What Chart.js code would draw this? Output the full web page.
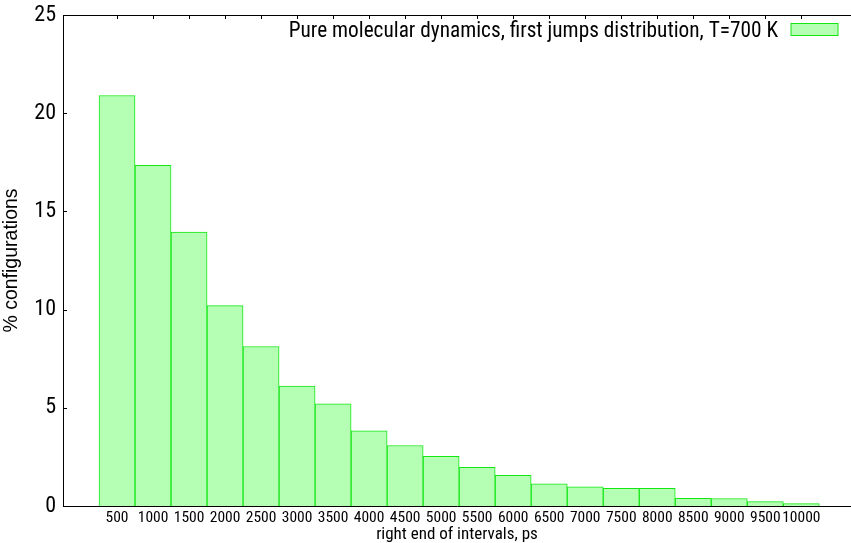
<!DOCTYPE html>
<html>
<head>
<meta charset="utf-8">
<script src="https://cdn.jsdelivr.net/npm/chart.js@4"></script>
<style>
    html, body { margin: 0; padding: 0; background: #fff; overflow: hidden; }
    #wrap { width: 851px; height: 543px; position: relative; }
</style>
</head>
<body>
<div id="wrap"><canvas id="jumpsChart"></canvas></div>
<script>
// right end of each 500 ps interval
const intervalEnds = ['500', '1000', '1500', '2000', '2500', '3000', '3500', '4000', '4500', '5000',
    '5500', '6000', '6500', '7000', '7500', '8000', '8500', '9000', '9500', '10000'];
// share of configurations (%) whose first jump falls into the interval
const percentConfigs = [20.9, 17.35, 13.95, 10.2, 8.12, 6.1, 5.2, 3.83, 3.08, 2.53,
    1.97, 1.56, 1.13, 0.98, 0.9, 0.9, 0.39, 0.38, 0.22, 0.12];
const yTickValues = [0, 5, 10, 15, 20, 25];

const seriesLabel = 'Pure molecular dynamics, first jumps distribution, T=700 K';
const narrowFont = '"Roboto Condensed", "Liberation Sans", Arial, sans-serif';

// gnuplot-like frame: top border with mirrored ticks, inward ticks on the left axis
const framePlugin = {
    id: 'frame',
    afterDatasetsDraw(chart) {
        const { ctx, chartArea, scales } = chart;
        ctx.save();
        ctx.strokeStyle = '#000';
        ctx.lineWidth = 1;
        ctx.beginPath();
        ctx.moveTo(chartArea.left, chartArea.top + 0.5);
        ctx.lineTo(chartArea.right, chartArea.top + 0.5);
        scales.x.ticks.forEach(t => {
            const px = Math.round(scales.x.getPixelForValue(t.value)) + 0.5;
            ctx.moveTo(px, chartArea.top);
            ctx.lineTo(px, chartArea.top + 4);
        });
        yTickValues.forEach(v => {
            const py = Math.round(scales.y.getPixelForValue(v)) + 0.5;
            ctx.moveTo(chartArea.left, py);
            ctx.lineTo(chartArea.left + 4, py);
        });
        ctx.stroke();
        ctx.restore();
    }
};

// key in the top right corner: label text followed by the sample box
const keyPlugin = {
    id: 'key',
    afterDraw(chart) {
        const { ctx, chartArea } = chart;
        const ds = chart.data.datasets[0];
        const boxRight = chartArea.right - 13;
        const boxTop = chartArea.top + 8.5;
        ctx.save();
        ctx.font = '21.3px ' + narrowFont;
        ctx.fillStyle = '#000';
        ctx.textAlign = 'right';
        ctx.textBaseline = 'alphabetic';
        ctx.fillText(ds.label, boxRight - 60, chartArea.top + 22);
        ctx.fillStyle = ds.backgroundColor;
        ctx.fillRect(boxRight - 47, boxTop, 47, 12);
        ctx.strokeStyle = ds.borderColor;
        ctx.lineWidth = 1;
        ctx.strokeRect(boxRight - 47, boxTop, 47, 12);
        ctx.restore();
    }
};

const ctx = document.getElementById('jumpsChart').getContext('2d');
new Chart(ctx, {
    type: 'bar',
    data: {
        datasets: [{
            label: seriesLabel,
            data: percentConfigs.map((v, i) => ({ x: i, y: v })),
            backgroundColor: 'rgb(180, 255, 180)',
            borderColor: 'rgb(20, 230, 20)',
            borderWidth: 1,
            categoryPercentage: 1,
            barPercentage: 1
        }]
    },
    options: {
        responsive: true,
        maintainAspectRatio: false,
        animation: false,
        layout: { padding: { top: 15, right: 0, left: 0, bottom: 0 } },
        plugins: {
            tooltip: { enabled: false },
            legend: { display: false }
        },
        scales: {
            x: {
                type: 'linear',
                offset: false,
                min: -1.5,
                max: 20.38,
                afterBuildTicks: scale => {
                    scale.ticks = intervalEnds.map((_, i) => ({ value: i }));
                },
                afterFit: scale => { scale.height = 37; },
                grid: { display: false, drawTicks: false },
                border: { display: true, color: '#000', width: 1 },
                ticks: {
                    autoSkip: false,
                    maxRotation: 0,
                    padding: 3,
                    color: '#000',
                    font: { family: narrowFont, size: 15.5 },
                    callback: v => intervalEnds[v]
                },
                title: {
                    display: true,
                    text: 'right end of intervals, ps',
                    color: '#000',
                    padding: { top: 0, bottom: -2 },
                    font: { family: narrowFont, size: 17 }
                }
            },
            y: {
                min: 0,
                max: 25,
                afterBuildTicks: scale => {
                    scale.ticks = yTickValues.map(v => ({ value: v }));
                },
                afterFit: scale => { scale.width = 63; },
                grid: { display: false, drawTicks: false },
                border: { display: true, color: '#000', width: 1 },
                ticks: {
                    padding: 7,
                    color: '#000',
                    font: { family: narrowFont, size: 22, lineHeight: 0.5 }
                },
                title: {
                    display: true,
                    text: '% configurations',
                    color: '#000',
                    padding: { top: 0, bottom: 0 },
                    font: { family: '"Liberation Sans", Arial, sans-serif', size: 19.5 }
                }
            }
        }
    },
    plugins: [framePlugin, keyPlugin]
});
</script>
</body>
</html>
